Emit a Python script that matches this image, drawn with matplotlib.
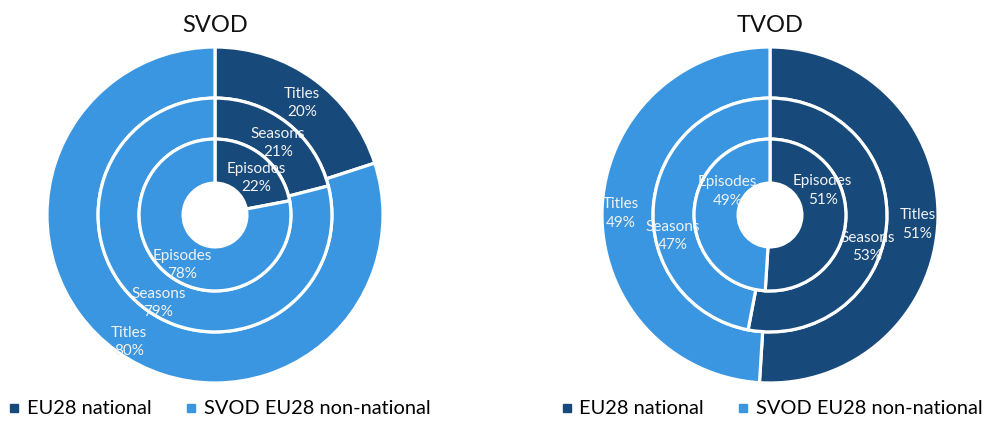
import numpy as np
import matplotlib
matplotlib.use('Agg')
from matplotlib import pyplot as plt
from matplotlib.lines import Line2D

plt.rcParams['font.family'] = ['Lato', 'DejaVu Sans']

# Share of EU28 national vs non-national works, per catalogue level
rings = ['Titles', 'Seasons', 'Episodes']
svod_national = [20, 21, 22]
svod_non_national = [80, 79, 78]
tvod_national = [51, 53, 51]
tvod_non_national = [49, 47, 49]
legend_labels = ['EU28 national', 'SVOD EU28 non-national']

dark = '#17497A'
light = '#3A96E0'
text_col = '#F2F2F2'

# ring radii (outer edge) and the hole, in units of the outer radius
radii = [1.0, 0.696, 0.452]
hole = 0.19
label_pos = [0.848, 0.82, 0.68]

W, H = 987, 422
fig = plt.figure(figsize=(W / 100, H / 100), dpi=100)


def donut(cx, cy, title, national, non_national, nudges, legend_x):
    R = 168
    ax = fig.add_axes([(cx - R) / W, (H - cy - R) / H, 2 * R / W, 2 * R / H])
    for i, name in enumerate(rings):
        inner = radii[i + 1] if i + 1 < len(radii) else hole
        _, _, autotexts = ax.pie(
            [national[i], non_national[i]], radius=radii[i],
            colors=[dark, light], startangle=90, counterclock=False,
            autopct=lambda p, n=name: '{}\n{:.0f}%'.format(n, p),
            pctdistance=label_pos[i],
            wedgeprops=dict(width=radii[i] - inner, edgecolor='white', linewidth=2.3),
            textprops=dict(color=text_col, fontsize=11, linespacing=1.4))
        # small pixel nudges so the labels sit where the original put them
        for t, (dx, dy) in zip(autotexts, nudges[i]):
            x, y = t.get_position()
            t.set_position((x + dx / R, y - dy / R))
    ax.set_xlim(-1, 1)
    ax.set_ylim(-1, 1)
    ax.set_aspect('equal')
    ax.set_axis_off()
    fig.text(cx / W, 1 - 25 / H, title, ha='center', va='center', fontsize=17, color='#111111')

    handles = [Line2D([], [], marker='s', linestyle='none', color=c, markersize=5.3)
               for c in (dark, light)]
    fig.legend(handles, legend_labels, loc='center left', ncol=2,
               bbox_to_anchor=(legend_x / W, 1 - 409 / H),
               frameon=False, fontsize=14.4, handlelength=0.35,
               handletextpad=0.45, columnspacing=1.8, borderaxespad=0,
               borderpad=0)
    return ax


donut(215, 215, 'SVOD', svod_national, svod_non_national,
      [[(3, 3), (-2, 12)], [(4, 4), (2, 12)], [(8, 3), (0, 10)]], 11)
donut(770, 215, 'TVOD', tvod_national, tvod_non_national,
      [[(5, 5), (-7, 3)], [(2, 23), (-2, 30)], [(1, -26), (9, -22)]], 563)

fig.savefig('out.png', dpi=100, facecolor='white')
